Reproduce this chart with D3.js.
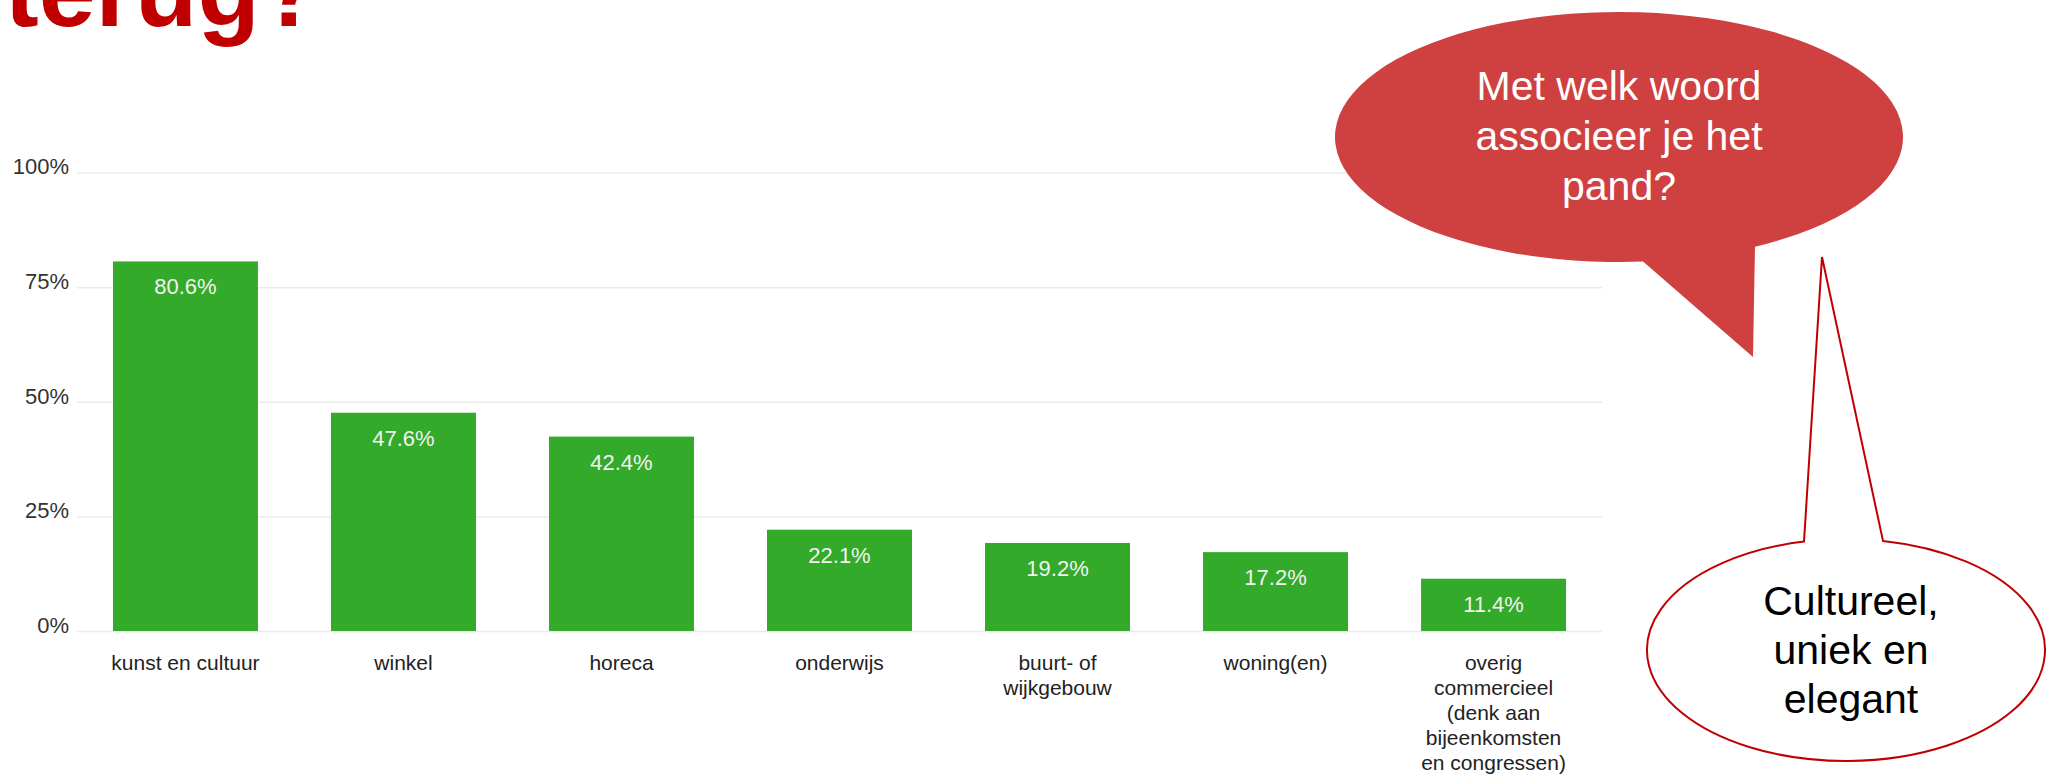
<!DOCTYPE html>
<html>
<head>
<meta charset="utf-8">
<script src="https://cdn.jsdelivr.net/npm/d3@7"></script>
<style>
  body { margin: 0; background: #ffffff; }
  svg { display: block; font-family: Arial, "Liberation Sans", sans-serif; }
</style>
</head>
<body>
<div id="chart"></div>
<script>
// chart data
var categories = ["kunst en cultuur", "winkel", "horeca", "onderwijs", "buurt- of\nwijkgebouw", "woning(en)",
    "overig\ncommercieel\n(denk aan\nbijeenkomsten\nen congressen)"];
var percentages = [80.6, 47.6, 42.4, 22.1, 19.2, 17.2, 11.4];
var yTicks = [0, 25, 50, 75, 100];

// slide texts
var titleText = "terug?";
var questionLines = ["Met welk woord", "associeer je het", "pand?"];
var answerLines = ["Cultureel,", "uniek en", "elegant"];

var svgWidth = 2047;
var svgHeight = 779;

var margin = {
    top: 172.5,
    right: 445,
    bottom: 148,
    left: 77
};

var width = svgWidth - margin.left - margin.right;
var height = svgHeight - margin.top - margin.bottom;

var svg = d3.select("#chart")
    .append("svg")
    .attr("width", svgWidth)
    .attr("height", svgHeight);

var chartGroup = svg.append("g")
    .attr("transform", `translate(${margin.left}, ${margin.top})`);

var xBandScale = d3.scaleBand()
    .domain(categories)
    .range([0, width])
    .paddingInner(0.335)
    .paddingOuter(0.165);

var yLinearScale = d3.scaleLinear()
    .domain([0, 100])
    .range([height, 0]);

// gridlines + y labels
var leftAxis = d3.axisLeft(yLinearScale)
    .tickValues(yTicks)
    .tickSize(-width)
    .tickPadding(8)
    .tickFormat(d => d + "%");

var yAxisGroup = chartGroup.append("g")
    .call(leftAxis);

yAxisGroup.select(".domain").remove();
yAxisGroup.selectAll("line")
    .attr("stroke", "#ebebeb")
    .attr("stroke-width", 1.5);
yAxisGroup.selectAll("text")
    .attr("font-size", "22px")
    .attr("fill", "#333")
    .attr("dy", "0.06em")
    .style("font-family", "Arial, 'Liberation Sans', sans-serif");

// bars
chartGroup.selectAll(".bar")
    .data(percentages)
    .enter()
    .append("rect")
    .attr("class", "bar")
    .attr("x", (d, i) => xBandScale(categories[i]))
    .attr("y", d => yLinearScale(d))
    .attr("width", xBandScale.bandwidth())
    .attr("height", d => height - yLinearScale(d))
    .attr("fill", "#33aa2a");

// values inside the bars
chartGroup.selectAll(".valueLabel")
    .data(percentages)
    .enter()
    .append("text")
    .attr("class", "valueLabel")
    .attr("x", (d, i) => xBandScale(categories[i]) + xBandScale.bandwidth() / 2)
    .attr("y", d => yLinearScale(d) + 33)
    .attr("text-anchor", "middle")
    .attr("font-size", "22px")
    .attr("fill", "#f2f2f2")
    .text(d => d.toFixed(1) + "%");

// category labels (multi line)
var bottomAxis = d3.axisBottom(xBandScale)
    .tickSize(0)
    .tickPadding(0);

var xAxisGroup = chartGroup.append("g")
    .attr("transform", `translate(0, ${height})`)
    .call(bottomAxis);

xAxisGroup.select(".domain").remove();
xAxisGroup.selectAll("text")
    .attr("dy", null)
    .attr("y", null)
    .attr("font-size", "21px")
    .attr("fill", "#222")
    .style("font-family", "Arial, 'Liberation Sans', sans-serif")
    .each(function(d) {
        var label = d3.select(this);
        label.text("");
        d.split("\n").forEach(function(line, i) {
            label.append("tspan")
                .attr("x", 0)
                .attr("y", 39 + i * 25)
                .text(line);
        });
    });

// title remainder at the top, cut off by the page edge
svg.append("text")
    .attr("x", 322)
    .attr("y", 26)
    .attr("text-anchor", "end")
    .attr("font-size", "102px")
    .attr("font-weight", "bold")
    .attr("fill", "#c00000")
    .text(titleText);

// speech bubble helper: ellipse with a pointed tail
function bubblePath(cx, cy, rx, ry, baseLeft, baseRight, tip, sweep) {
    var side = tip[1] > cy ? 1 : -1;
    var yAt = x => cy + side * ry * Math.sqrt(1 - Math.pow((x - cx) / rx, 2));
    var p = d3.path();
    p.moveTo(baseLeft, yAt(baseLeft));
    p.lineTo(tip[0], tip[1]);
    p.lineTo(baseRight, yAt(baseRight));
    return p.toString() +
        `A${rx},${ry} 0 1 ${sweep} ${baseLeft},${yAt(baseLeft)}Z`;
}

// red question bubble
svg.append("path")
    .attr("d", bubblePath(1619, 137, 284, 125, 1643, 1755, [1753, 357], 0))
    .attr("fill", "#cf4040");

svg.selectAll(".question")
    .data(questionLines)
    .enter()
    .append("text")
    .attr("class", "question")
    .attr("x", 1619)
    .attr("y", (d, i) => 100 + i * 50)
    .attr("text-anchor", "middle")
    .attr("font-size", "41px")
    .attr("fill", "#ffffff")
    .text(d => d);

// outlined answer bubble
svg.append("path")
    .attr("d", bubblePath(1846, 650, 199, 111, 1804, 1883, [1822, 257], 1))
    .attr("fill", "#ffffff")
    .attr("stroke", "#c00000")
    .attr("stroke-width", 2);

svg.selectAll(".answer")
    .data(answerLines)
    .enter()
    .append("text")
    .attr("class", "answer")
    .attr("x", 1851)
    .attr("y", (d, i) => 615 + i * 49)
    .attr("text-anchor", "middle")
    .attr("font-size", "41px")
    .attr("fill", "#000000")
    .text(d => d);
</script>
</body>
</html>
